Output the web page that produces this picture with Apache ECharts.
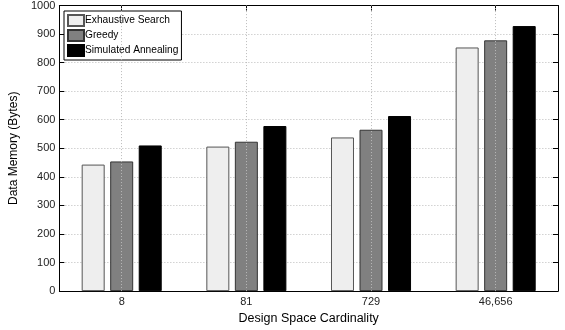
<!DOCTYPE html>
<html>
<head>
<meta charset="utf-8">
<script src="https://cdn.jsdelivr.net/npm/echarts@6/dist/echarts.min.js"></script>
<style>html,body{margin:0;padding:0;background:#fff}#c{width:565px;height:330px}</style>
</head>
<body>
<div id="c"></div>
<script>
const categories = ['8', '81', '729', '46,656'];
const exhaustive = [443, 506, 538, 853];
const greedy = [454, 523, 565, 878];
const annealing = [510, 578, 613, 928];
const yTicks = [0, 100, 200, 300, 400, 500, 600, 700, 800, 900, 1000];

const font = 'Liberation Sans, Arial, Helvetica, sans-serif';
const chart = echarts.init(document.getElementById('c'), null, {renderer: 'canvas'});
const grid = {left: 54, right: 7, top: 4, bottom: 34};
chart.setOption({
  animation: false,
  backgroundColor: '#fff',
  grid: grid,
  legend: {
    data: ['Exhaustive Search', 'Greedy', 'Simulated Annealing'],
    icon: 'rect',
    orient: 'vertical', left: 64, top: 11,
    backgroundColor: '#fff', borderColor: '#000', borderWidth: 1,
    padding: [3, 3, 3, 3], itemGap: 2, itemWidth: 16, itemHeight: 11,
    textStyle: {fontFamily: font, fontSize: 10.2, color: '#000', padding: [0, 0, 0, -4]}
  },
  xAxis: [{
    type: 'category', data: categories, position: 'bottom',
    axisLine: {show: true, lineStyle: {color: '#000', width: 1}},
    axisTick: {show: true, inside: true, alignWithLabel: true, length: 5, lineStyle: {color: '#000'}},
    axisLabel: {fontFamily: font, fontSize: 11, color: '#222', margin: 5},
    name: 'Design Space Cardinality', nameLocation: 'middle', nameGap: 16,
    nameTextStyle: {fontFamily: font, fontSize: 12.5, color: '#000'}
  }, {
    type: 'category', data: categories, position: 'top',
    axisLine: {show: true, onZero: false, lineStyle: {color: '#000', width: 1}},
    axisTick: {show: true, inside: true, alignWithLabel: true, length: 5, lineStyle: {color: '#000'}},
    axisLabel: {show: false}
  }],
  yAxis: [{
    type: 'value', min: 0, max: 1000, interval: 100, position: 'left',
    axisLine: {show: true, lineStyle: {color: '#000', width: 1}},
    axisTick: {show: true, inside: true, length: 5, lineStyle: {color: '#000'}},
    axisLabel: {fontFamily: font, fontSize: 11, color: '#222', margin: 4,
      formatter: v => yTicks.includes(v) ? String(v) : ''},
    splitLine: {show: true, lineStyle: {color: '#bbb', type: [1, 2], width: 1}},
    name: 'Data Memory (Bytes)', nameLocation: 'middle', nameGap: 29,
    nameTextStyle: {fontFamily: font, fontSize: 12, color: '#000'}
  }, {
    type: 'value', min: 0, max: 1000, interval: 100, position: 'right',
    axisLine: {show: true, onZero: false, lineStyle: {color: '#000', width: 1}},
    axisTick: {show: true, inside: true, length: 5, lineStyle: {color: '#000'}},
    axisLabel: {show: false}, splitLine: {show: false}
  }],
  series: [{
    name: 'vgrid', type: 'line', data: [], z: 1, silent: true,
    markLine: {
      symbol: 'none', silent: true, label: {show: false},
      lineStyle: {color: '#bbb', type: [1, 2], width: 1},
      data: categories.map(c => ({xAxis: c}))
    }
  }, {
    name: 'Exhaustive Search', type: 'bar', data: exhaustive, z: 3,
    barWidth: 23, barGap: '24%',
    itemStyle: {color: '#eeeeee', borderColor: '#555', borderWidth: 1}
  }, {
    name: 'Greedy', type: 'bar', data: greedy, z: 3,
    barWidth: 23, barGap: '24%',
    itemStyle: {color: '#808080', borderColor: '#333', borderWidth: 1}
  }, {
    name: 'Simulated Annealing', type: 'bar', data: annealing, z: 3,
    barWidth: 23, barGap: '24%',
    itemStyle: {color: '#000', borderColor: '#000', borderWidth: 1}
  }]
});
</script>
</body>
</html>
